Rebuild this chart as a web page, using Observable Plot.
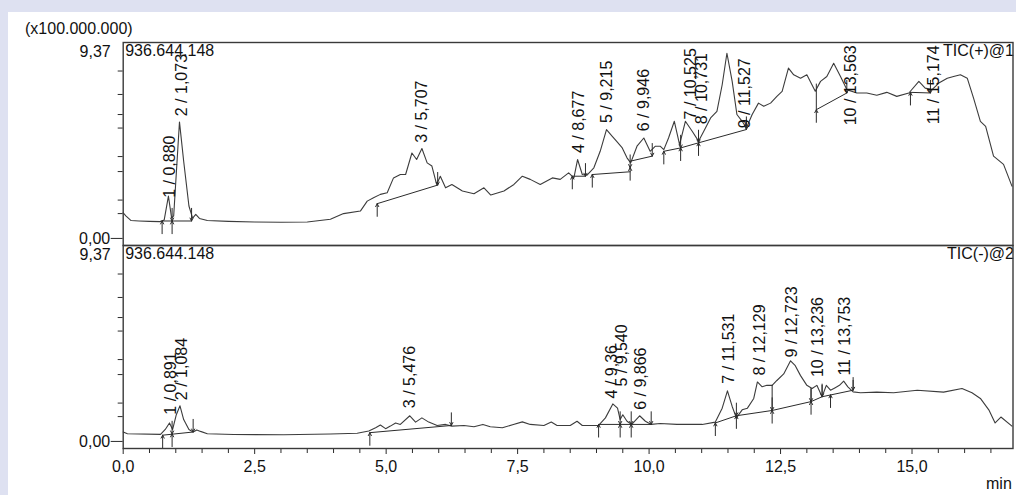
<!DOCTYPE html>
<html>
<head>
<meta charset="utf-8">
<script src="https://cdn.jsdelivr.net/npm/d3@7"></script>
<script src="https://cdn.jsdelivr.net/npm/@observablehq/plot@0.6"></script>
<style>
  html, body { margin: 0; padding: 0; }
  body { width: 1016px; height: 495px; background: rgb(222,225,241); position: relative; overflow: hidden;
         font-family: "Liberation Sans", Arial, sans-serif; }
  #card { position: absolute; left: 8px; top: 12px; width: 1008px; height: 483px; background: #fff; }
  #scale { position: absolute; left: 17px; top: 9px; font-size: 16px; line-height: 16px; color: #111; }
  #unit { position: absolute; left: 978px; top: 464px; font-size: 16px; line-height: 16px; color: #111; }
  #chart { position: absolute; left: 0; top: 0; }
</style>
</head>
<body>
<div id="card">
  <div id="chart"></div>
  <div id="scale">(x100.000.000)</div>
  <div id="unit">min</div>
</div>
<script>
// ---- data ----
const panels = ["TIC(+)@1", "TIC(-)@2"];
const maxLabel = "936.644.148";
const yMax = 9.37;
const yTickLabels = ["0,00", "9,37"];
const xTicks = [0, 2.5, 5, 7.5, 10, 12.5, 15];
const xMinorTicks = [0.5,1,1.5,2,3,3.5,4,4.5,5.5,6,6.5,7,8,8.5,9,9.5,10.5,11,11.5,12,13,13.5,14,14.5,15.5,16,16.5];
const yMinorTicks = [1.27, 1.91, 3.26, 3.97, 5.32, 5.96, 6.91, 8.02];

// TIC(+) trace: time (min) and intensity (x100.000.000)
const tPos = [0.00,0.05,0.15,0.30,0.50,0.70,0.78,0.86,0.92,0.96,1.07,1.15,1.25,1.32,1.38,1.45,1.60,2.00,2.50,3.00,3.50,3.94,4.19,4.51,4.64,4.76,4.89,5.02,5.14,5.27,5.37,5.49,5.58,5.68,5.78,5.87,5.96,6.03,6.13,6.25,6.45,6.67,6.86,6.99,7.24,7.43,7.59,7.74,7.93,8.16,8.31,8.47,8.57,8.64,8.73,8.82,8.95,9.07,9.19,9.30,9.38,9.49,9.58,9.65,9.77,9.90,10.02,10.12,10.21,10.28,10.37,10.48,10.58,10.69,10.82,10.94,11.04,11.17,11.29,11.39,11.48,11.58,11.67,11.77,11.85,11.96,12.08,12.18,12.31,12.43,12.53,12.65,12.75,12.88,13.00,13.16,13.26,13.38,13.51,13.64,13.76,13.95,14.14,14.33,14.52,14.71,14.94,15.13,15.25,15.38,15.51,15.67,15.79,15.92,16.05,16.17,16.30,16.40,16.55,16.74,16.90];
const vPos = [1.31,1.16,0.94,0.92,0.90,0.89,0.97,2.10,1.06,1.16,5.61,3.75,1.63,1.06,1.23,1.04,0.94,0.90,0.87,0.86,0.87,1.00,1.27,1.39,1.86,2.02,2.18,2.26,2.96,3.12,3.12,4.14,3.83,4.35,3.67,3.52,2.65,3.04,2.49,2.65,2.34,2.21,2.49,2.15,2.34,2.65,3.04,2.89,2.65,2.96,2.89,3.20,2.96,3.83,3.12,3.09,3.44,4.22,5.25,4.93,4.70,4.38,3.91,3.67,4.46,4.85,4.22,4.46,4.46,4.30,4.85,5.64,4.54,5.64,5.17,4.70,5.17,5.80,6.11,7.37,8.86,7.53,5.96,5.64,5.32,5.96,6.50,6.35,6.50,6.82,7.06,8.16,7.84,7.68,7.84,7.06,7.53,7.76,8.39,7.76,7.14,6.98,6.98,6.87,7.01,6.82,6.98,7.53,7.21,7.14,7.45,7.68,7.76,7.84,7.68,6.74,5.64,5.40,3.99,3.60,2.57];

// TIC(-) trace
const tNeg = [0.00,0.08,0.71,0.80,0.88,0.94,1.01,1.08,1.15,1.25,1.33,1.40,1.47,1.60,2.10,3.05,3.94,4.45,4.67,4.80,4.89,4.99,5.08,5.18,5.27,5.45,5.56,5.68,5.81,5.97,6.13,6.25,6.48,6.67,6.84,6.98,7.21,7.42,7.59,7.74,8.00,8.14,8.25,8.50,8.63,8.73,9.04,9.17,9.31,9.40,9.45,9.50,9.58,9.67,9.82,9.93,10.04,10.21,10.53,11.01,11.26,11.39,11.49,11.58,11.66,11.77,11.87,11.99,12.06,12.15,12.24,12.34,12.43,12.56,12.69,12.78,12.88,13.00,13.10,13.19,13.29,13.37,13.45,13.54,13.62,13.70,13.78,13.88,14.02,14.33,14.65,15.10,15.60,15.95,16.14,16.30,16.46,16.58,16.69,16.90];
const vNeg = [0.54,0.46,0.43,0.66,0.97,0.66,1.36,1.78,1.13,0.66,0.54,0.64,0.57,0.46,0.42,0.41,0.45,0.48,0.59,0.74,0.87,0.70,0.82,0.97,0.90,1.31,1.01,1.21,1.01,0.85,0.90,0.82,0.85,0.79,0.90,0.79,0.74,0.90,1.02,0.90,0.85,1.01,0.85,0.85,1.05,0.85,0.85,1.21,1.87,1.67,1.13,1.36,1.05,0.90,1.31,1.05,0.90,0.94,0.90,0.90,1.01,1.67,2.49,1.75,1.21,1.59,1.67,2.13,2.91,2.68,2.75,2.75,2.98,3.29,3.91,3.68,3.21,2.75,2.60,2.75,2.21,2.75,2.52,2.64,2.75,2.95,2.68,2.44,2.40,2.43,2.40,2.52,2.43,2.60,2.40,2.13,1.59,0.97,1.25,0.82];

// peak labels: [panel index, text, label time, label start value]
const peakLabels = [
  [0,"1 / 0,880",0.886,2.02],[0,"2 / 1,073",1.12,5.88],[0,"3 / 5,707",5.67,4.62],
  [0,"4 / 8,677",8.66,4.14],[0,"5 / 9,215",9.19,5.56],[0,"6 / 9,946",9.90,5.17],
  [0,"7 / 10,525",10.79,5.73],[0,"8 / 10,731",11.01,5.50],[0,"9 / 11,527",11.83,5.31],
  [0,"10 / 13,563",13.83,5.45],[0,"11 / 15,174",15.41,5.50],
  [1,"1 / 0,891",0.90,1.36],[1,"2 / 1,084",1.12,2.05],[1,"3 / 5,476",5.45,1.67],
  [1,"4 / 9,36",9.30,2.13],[1,"5 / 9,540",9.49,2.69],[1,"6 / 9,866",9.85,1.59],
  [1,"7 / 11,531",11.51,2.83],[1,"8 / 12,129",12.10,3.21],[1,"9 / 12,723",12.72,4.07],
  [1,"10 / 13,236",13.21,3.14],[1,"11 / 13,753",13.73,3.21]
];

// integration baselines: [panel index, segment id, time, value]
const baselinePts = [
  [0,"a",0.74,0.92],[0,"a",1.30,0.92],
  [0,"b",4.83,1.74],[0,"b",5.98,2.62],
  [0,"c",8.54,3.04],[0,"c",8.79,3.04],
  [0,"d",8.92,3.12],[0,"d",9.64,3.25],
  [0,"e",9.64,3.75],[0,"e",10.06,3.99],
  [0,"f",10.28,4.22],[0,"f",10.60,4.38],[0,"f",10.94,4.62],[0,"f",11.85,5.25],
  [0,"g",13.18,6.19],[0,"g",13.76,6.98],
  [0,"h",14.97,7.01],[0,"h",15.35,6.98],
  [1,"a",0.75,0.39],[1,"a",1.33,0.54],
  [1,"b",4.69,0.51],[1,"b",6.24,0.85],
  [1,"c",9.04,0.90],[1,"c",10.04,0.90],
  [1,"d",11.26,0.97],[1,"d",11.66,1.31],[1,"d",12.34,1.56],[1,"d",13.08,1.98],[1,"d",13.29,2.21],[1,"d",13.88,2.52]
];

// peak start/end markers: [panel index, time, value, kind] (u = start, d = end, b = both)
const markers = [
  [0,0.74,0.92,"u"],[0,0.93,0.92,"b"],[0,1.30,0.92,"d"],
  [0,4.83,1.74,"u"],[0,5.98,2.62,"d"],
  [0,8.54,3.04,"u"],[0,8.79,3.04,"d"],[0,8.92,3.12,"u"],[0,9.64,3.45,"b"],[0,10.06,3.99,"d"],
  [0,10.28,4.22,"u"],[0,10.60,4.38,"b"],[0,10.94,4.62,"b"],[0,11.85,5.25,"d"],
  [0,13.18,6.19,"u"],[0,13.76,6.98,"d"],[0,14.97,7.01,"u"],[0,15.35,6.98,"d"],
  [1,0.75,0.39,"u"],[1,0.93,0.45,"b"],[1,1.33,0.54,"d"],
  [1,4.69,0.51,"u"],[1,6.24,0.85,"d"],
  [1,9.04,0.90,"u"],[1,9.45,0.90,"b"],[1,9.66,0.90,"b"],[1,10.04,0.90,"d"],
  [1,11.26,0.97,"u"],[1,11.66,1.31,"b"],[1,12.34,1.56,"b"],[1,13.08,1.98,"b"],
  [1,13.29,2.21,"d"],[1,13.45,2.30,"u"],[1,13.88,2.52,"d"]
];

// drop lines from the trace to the baseline: [panel index, time, value from, value to]
const dropLines = [
  [0,13.18,7.40,6.19],[0,11.85,5.70,5.25],
  [1,12.34,2.75,1.56],[1,13.08,2.60,1.98],[1,13.29,2.75,2.21],[1,13.88,2.98,2.52]
];

// ---- build tables ----
const trace = [
  ...tPos.map((t, i) => ({panel: panels[0], t, v: vPos[i]})),
  ...tNeg.map((t, i) => ({panel: panels[1], t, v: vNeg[i]}))
];
const labelRows = peakLabels.map(([p, text, t, v]) => ({panel: panels[p], text, t, v}));
const baseRows = baselinePts.map(([p, s, t, v]) => ({panel: panels[p], seg: p + s, t, v}));
const markRows = markers.map(([p, t, v, k]) => ({panel: panels[p], t, v, k}));
const dropRows = dropLines.map(([p, t, v1, v2]) => ({panel: panels[p], t, v1, v2}));
const panelRows = panels.map(p => ({panel: p, max: maxLabel}));

const L = 0.6; // arrow length in value units
const ups = markRows.filter(d => d.k === "u" || d.k === "b");
const downs = markRows.filter(d => d.k === "d" || d.k === "b");
const ink = "#2b2b2b";

const chart = Plot.plot({
  width: 1008,
  height: 483,
  marginLeft: 114.7,
  marginRight: 3.5,
  marginTop: 29,
  marginBottom: 47,
  style: {fontFamily: "'Liberation Sans', Arial, sans-serif", fontSize: "16px", color: "#111", background: "transparent", overflow: "visible"},
  x: {domain: [0, 16.92]},
  y: {domain: [-0.24, yMax]},
  fy: {domain: panels, padding: 0, axis: null},
  marks: [
    Plot.axisX({ticks: xMinorTicks, tickSize: 5, tickFormat: () => "", label: null, stroke: ink}),
    Plot.axisX({ticks: xTicks, tickSize: 6, tickPadding: 6, tickFormat: d => d.toFixed(1).replace(".", ","), label: null, stroke: ink, fontSize: 16}),
    Plot.axisY({ticks: yMinorTicks, tickSize: 5, tickFormat: () => "", label: null, stroke: ink}),
    Plot.axisY({ticks: [0], tickSize: 12, tickPadding: 1, tickFormat: () => yTickLabels[0], label: null, stroke: ink, fontSize: 16, dy: -2}),
    Plot.text(panelRows, {fy: "panel", text: () => yTickLabels[1], frameAnchor: "top-left", textAnchor: "end", lineAnchor: "top", dx: -12.5, dy: 3.5, fontSize: 16, fill: "#111"}),
    Plot.line(trace, {x: "t", y: "v", fy: "panel", stroke: "#3c3c3c", strokeWidth: 1.1}),
    Plot.line(baseRows, {x: "t", y: "v", fy: "panel", z: "seg", stroke: ink, strokeWidth: 1}),
    Plot.ruleX(dropRows, {x: "t", y1: "v1", y2: "v2", fy: "panel", stroke: ink, strokeWidth: 1}),
    Plot.arrow(ups, {x1: "t", x2: "t", y1: d => d.v - L, y2: "v", fy: "panel", stroke: ink, strokeWidth: 1, headLength: 5, headAngle: 55}),
    Plot.arrow(downs, {x1: "t", x2: "t", y1: d => d.v + L, y2: "v", fy: "panel", stroke: ink, strokeWidth: 1, headLength: 5, headAngle: 55}),
    Plot.text(labelRows, {x: "t", y: "v", fy: "panel", text: "text", rotate: -90, textAnchor: "start", fontSize: 16, fill: "#111"}),
    Plot.text(panelRows, {fy: "panel", text: "max", frameAnchor: "top-left", textAnchor: "start", lineAnchor: "top", dx: 2, dy: 2, fontSize: 16, fill: "#111"}),
    Plot.text(panelRows, {fy: "panel", text: "panel", frameAnchor: "top-right", textAnchor: "end", lineAnchor: "top", dx: 1, dy: 2, fontSize: 16, fill: "#111"}),
    Plot.frame({stroke: "#3a3a3a", strokeWidth: 1.4})
  ]
});
document.getElementById("chart").appendChild(chart);
</script>
</body>
</html>
